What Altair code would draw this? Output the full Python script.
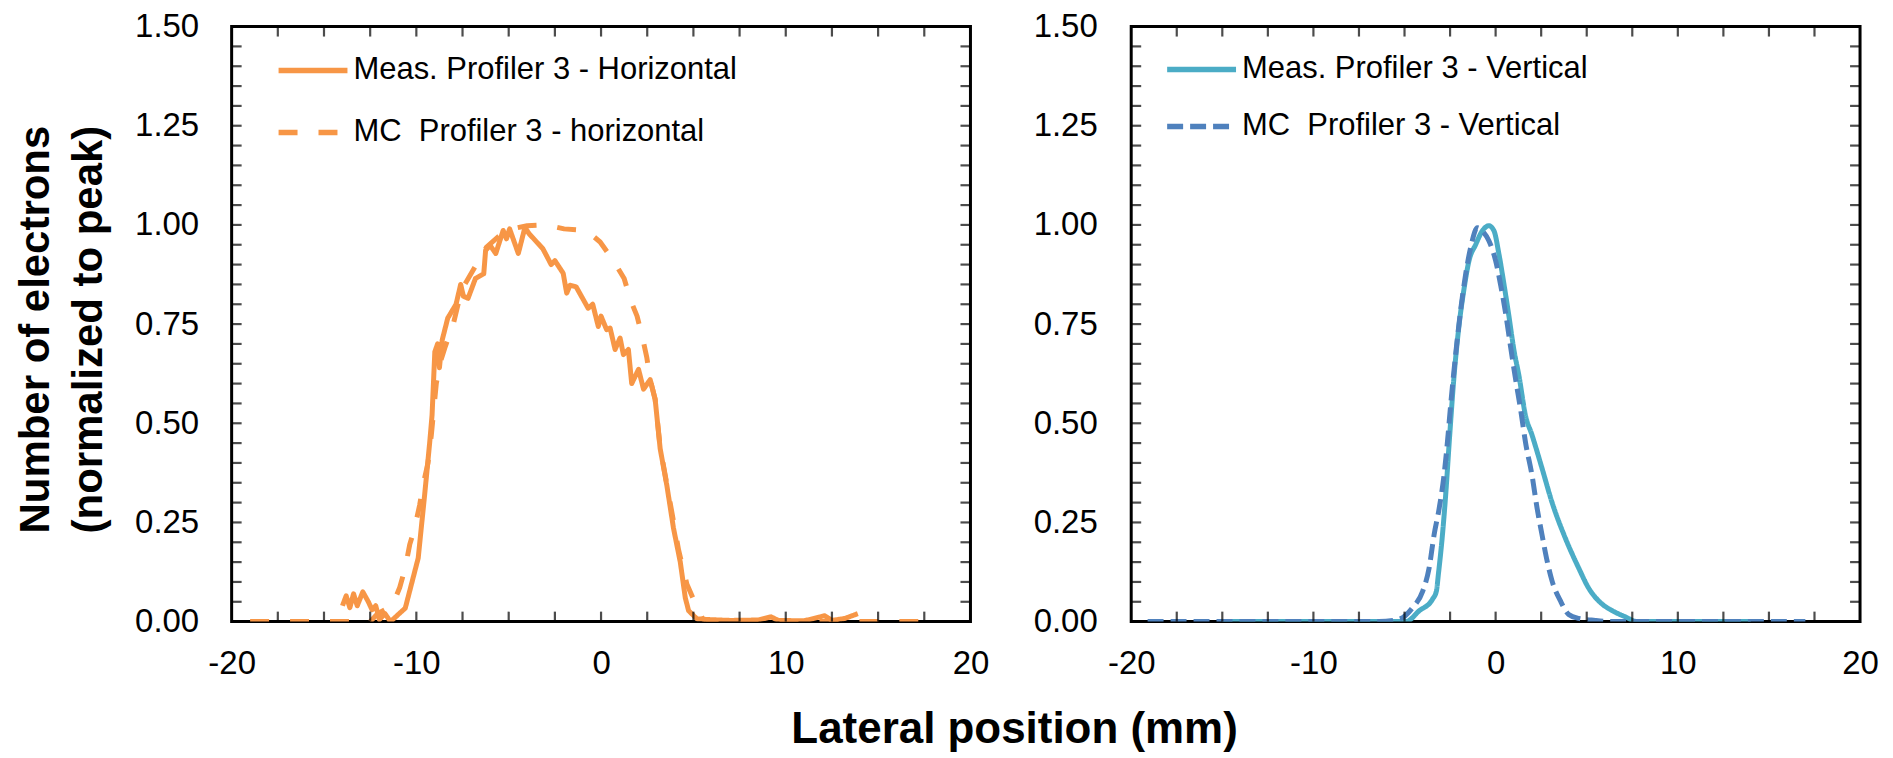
import altair as alt
import pandas as pd

# ---------------- data ----------------
X_DOMAIN = [-20, 20]
Y_DOMAIN = [0, 1.5]
X_LABELS = [-20, -10, 0, 10, 20]
Y_LABELS = [0, 0.25, 0.5, 0.75, 1.0, 1.25, 1.5]
X_MINOR = [-17.5, -15, -12.5, -10, -7.5, -5, -2.5, 0, 2.5, 5, 7.5, 10, 12.5, 15, 17.5]
Y_MINOR = [0.05, 0.10, 0.15, 0.20, 0.25, 0.30, 0.35, 0.40, 0.45, 0.50,
           0.55, 0.60, 0.65, 0.70, 0.75, 0.80, 0.85, 0.90, 0.95, 1.00,
           1.05, 1.10, 1.15, 1.20, 1.25, 1.30, 1.35, 1.40, 1.45]

H_MEAS_NAME = "Meas. Profiler 3 - Horizontal"
H_MC_NAME = "MC\u00a0 Profiler 3 - horizontal"
V_MEAS_NAME = "Meas. Profiler 3 - Vertical"
V_MC_NAME = "MC\u00a0 Profiler 3 - Vertical"

H_MEAS_X = [-14.0, -13.8, -13.6, -13.4, -13.2, -12.9, -12.6, -12.4, -12.2, -12.0,
            -11.7, -11.4, -10.6, -9.9, -9.55, -9.28, -9.15, -9.0, -8.85, -8.75,
            -8.6, -8.3, -7.85, -7.6, -7.45, -7.2, -6.8, -6.35, -6.25, -6.0,
            -5.7, -5.3, -5.12, -4.95, -4.48, -4.12, -3.9, -3.15, -2.7, -2.5,
            -2.05, -1.86, -1.68, -1.35, -0.7, -0.45, -0.15, 0.0, 0.3, 0.49,
            0.76, 1.03, 1.21, 1.48, 1.66, 2.03, 2.3, 2.66, 2.93, 3.06,
            3.2, 3.56, 3.92, 4.29, 4.56, 4.74, 5.19, 5.9, 7.0, 8.5,
            9.2, 9.6, 11.0, 12.1, 12.5, 13.2, 13.9]
H_MEAS_Y = [0.04, 0.065, 0.035, 0.07, 0.04, 0.075, 0.05, 0.03, 0.04, 0.005,
            0.02, 0.0, 0.034, 0.16, 0.32, 0.45, 0.52, 0.68, 0.70, 0.64,
            0.71, 0.765, 0.80, 0.85, 0.82, 0.815, 0.865, 0.877, 0.936, 0.948,
            0.928, 0.986, 0.965, 0.99, 0.928, 0.994, 0.978, 0.94, 0.90, 0.91,
            0.878, 0.828, 0.848, 0.844, 0.79, 0.80, 0.744, 0.77, 0.736, 0.74,
            0.686, 0.715, 0.673, 0.686, 0.60, 0.636, 0.586, 0.61, 0.56, 0.50,
            0.436, 0.344, 0.236, 0.15, 0.06, 0.0275, 0.007, 0.005, 0.003, 0.004,
            0.012, 0.003, 0.002, 0.015, 0.003, 0.008, 0.02]

H_MC_X = [-19.0, -12.5, -12.1, -11.3, -10.9, -10.6, -10.36, -10.09, -9.82, -9.64,
          -9.37, -9.19, -8.92, -8.73, -8.46, -8.0, -7.74, -7.38, -6.75, -6.2,
          -5.4, -4.85, -4.0, -3.0, -2.0, -0.8, -0.05, 0.67, 1.25, 1.6,
          1.95, 2.25, 2.48, 2.66, 2.93, 3.2, 3.74, 4.2, 4.65, 5.1,
          5.5, 6.0, 18.3]
H_MC_Y = [0.0, 0.0, 0.02, 0.04, 0.086, 0.136, 0.194, 0.236, 0.294, 0.344,
          0.40, 0.47, 0.60, 0.65, 0.69, 0.75, 0.80, 0.85, 0.90, 0.944,
          0.977, 0.99, 0.998, 1.0, 0.99, 0.986, 0.957, 0.91, 0.865, 0.81,
          0.77, 0.715, 0.665, 0.61, 0.56, 0.44, 0.30, 0.18, 0.094, 0.046,
          0.007, 0.0, 0.0]

V_MEAS_X = [-15.0, -4.93, -4.2, -3.47, -3.25, -3.14, -2.92, -2.74, -2.52, -2.28,
            -2.0, -1.73, -1.46, -1.1, -0.73, -0.37, -0.09, 0.18, 0.46, 0.73,
            1.0, 1.28, 1.64, 2.0, 2.55, 3.1, 3.83, 4.56, 5.1, 5.75,
            6.39, 7.12, 7.76, 14.0]
V_MEAS_Y = [0.0, 0.0, 0.027, 0.056, 0.077, 0.12, 0.218, 0.32, 0.47, 0.62,
            0.75, 0.84, 0.91, 0.95, 0.985, 0.998, 0.985, 0.927, 0.85, 0.77,
            0.686, 0.62, 0.52, 0.47, 0.386, 0.30, 0.21, 0.135, 0.085, 0.048,
            0.028, 0.012, 0.0, 0.0]

V_MC_X = [-19.1, -6.4, -5.3, -4.56, -4.0, -3.65, -3.38, -3.1, -2.83, -2.65,
          -2.46, -2.19, -1.92, -1.64, -1.37, -1.0, -0.73, -0.37, 0.0, 0.27,
          0.55, 0.82, 1.1, 1.37, 1.64, 2.0, 2.28, 2.55, 2.83, 3.1,
          3.56, 4.01, 4.56, 5.47, 6.5, 17.0]
V_MC_Y = [0.0, 0.0, 0.006, 0.035, 0.077, 0.135, 0.218, 0.285, 0.37, 0.45,
          0.55, 0.675, 0.785, 0.877, 0.943, 0.993, 0.985, 0.96, 0.91, 0.85,
          0.777, 0.693, 0.61, 0.535, 0.452, 0.368, 0.285, 0.218, 0.152, 0.102,
          0.052, 0.018, 0.008, 0.003, 0.0, 0.0]

# ---------------- styling ----------------
FONT = "Liberation Sans"
ORANGE = "#F79646"
TEAL = "#4BACC6"
BLUE = "#4F81BD"
TICK_FS = 33
LEG_FS = 31
TITLE_FS = 44
PLOT_H = 596

X_AXIS = alt.Axis(
    values=X_LABELS, labelExpr="'' + datum.value", title=None, labelFontSize=TICK_FS,
    labelFont=FONT, labelColor="black", labelPadding=26, ticks=False, tickSize=0,
    domain=False, grid=False, labelFlush=False, labelOverlap=False)


def make_panel(series, names, colors, dashes, interp, yaxis, leg_x, leg_y, row_pad, width):
    frames = []
    for name, xv, yv in series:
        frames.append(pd.DataFrame({"x": xv, "y": yv, "series": name}))
    df = pd.concat(frames, ignore_index=True)

    xs = alt.Scale(domain=X_DOMAIN, nice=False, zero=False)
    ys = alt.Scale(domain=Y_DOMAIN, nice=False, zero=False)

    legend = alt.Legend(
        title=None, orient="none", legendX=leg_x, legendY=leg_y, padding=0,
        symbolType="stroke", symbolSize=4761, symbolStrokeWidth=5.5,
        clipHeight=30, rowPadding=row_pad, labelOffset=3,
        labelFont=FONT, labelFontSize=LEG_FS, labelColor="black", labelLimit=0,
    )
    lines = alt.Chart(df).mark_line(
        strokeWidth=5, strokeJoin="round", interpolate=interp, clip=True
    ).encode(
        x=alt.X("x:Q", scale=xs, axis=X_AXIS),
        y=alt.Y("y:Q", scale=ys, axis=yaxis),
        color=alt.Color("series:N", scale=alt.Scale(domain=names, range=colors), legend=legend),
        strokeDash=alt.StrokeDash("series:N", scale=alt.Scale(domain=names, range=dashes), legend=legend),
    )

    ex = lambda f: alt.X(f, scale=xs)
    ey = lambda f: alt.Y(f, scale=ys)

    left_df = pd.DataFrame({"v": Y_MINOR, "edge": X_DOMAIN[0]})
    right_df = pd.DataFrame({"v": Y_MINOR, "edge": X_DOMAIN[1]})
    bot_df = pd.DataFrame({"v": X_MINOR, "edge": Y_DOMAIN[0]})
    top_df = pd.DataFrame({"v": X_MINOR, "edge": Y_DOMAIN[1]})

    tk = dict(color="black", thickness=2.2, size=10)
    t_left = alt.Chart(left_df).mark_tick(orient="horizontal", xOffset=5, **tk).encode(
        x=ex("edge:Q"), y=ey("v:Q"))
    t_right = alt.Chart(right_df).mark_tick(orient="horizontal", xOffset=-5, **tk).encode(
        x=ex("edge:Q"), y=ey("v:Q"))
    t_bot = alt.Chart(bot_df).mark_tick(orient="vertical", yOffset=-5, **tk).encode(
        x=ex("v:Q"), y=ey("edge:Q"))
    t_top = alt.Chart(top_df).mark_tick(orient="vertical", yOffset=5, **tk).encode(
        x=ex("v:Q"), y=ey("edge:Q"))

    return alt.layer(lines, t_left, t_right, t_bot, t_top).properties(width=width, height=PLOT_H)


y_axis_left = alt.Axis(
    values=Y_LABELS, format=".2f", labelFontSize=TICK_FS, labelFont=FONT, labelColor="black",
    labelPadding=33, ticks=False, tickSize=0, domain=False, grid=False, labelFlush=False,
    labelOverlap=False,
    title=["Number of electrons", "(normalized to peak)"],
    titleFont=FONT, titleFontSize=42, titleFontWeight="bold", titleColor="black",
    titleLineHeight=53, titleX=-196, titleY=303, titleAlign="center", titleBaseline="middle",
    titleAngle=270,
)
y_axis_right = alt.Axis(
    values=Y_LABELS, format=".2f", labelFontSize=TICK_FS, labelFont=FONT, labelColor="black",
    labelPadding=34, ticks=False, tickSize=0, domain=False, grid=False, labelFlush=False,
    labelOverlap=False, title=None,
)

left = make_panel(
    [(H_MEAS_NAME, H_MEAS_X, H_MEAS_Y), (H_MC_NAME, H_MC_X, H_MC_Y)],
    [H_MEAS_NAME, H_MC_NAME], [ORANGE, ORANGE], [[1, 0], [19, 21]], "linear",
    y_axis_left, 44, 29, 31, 740,
)
right = make_panel(
    [(V_MEAS_NAME, V_MEAS_X, V_MEAS_Y), (V_MC_NAME, V_MC_X, V_MC_Y)],
    [V_MEAS_NAME, V_MC_NAME], [TEAL, BLUE], [[1, 0], [16, 7]], "monotone",
    y_axis_right, 33, 28, 26, 730,
)

chart = alt.hconcat(left, right, spacing=41).resolve_scale(
    color="independent", strokeDash="independent"
).properties(
    title=alt.TitleParams(
        "Lateral position (mm)", orient="bottom", anchor="middle", font=FONT,
        fontSize=TITLE_FS, fontWeight="bold", color="black", offset=26, dx=68,
    ),
    padding={"left": 5, "top": 0, "right": 5, "bottom": 0},
    background="white",
).configure_view(
    stroke="black", strokeWidth=3
)

chart.save("out.html", embed_options={"renderer": "svg", "actions": False})
